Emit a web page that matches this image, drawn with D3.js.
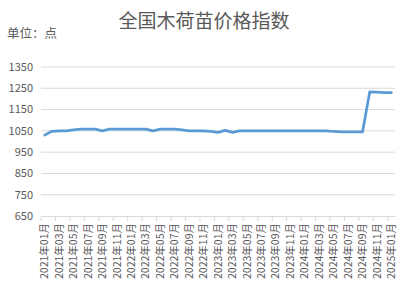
<!DOCTYPE html>
<html>
<head>
<meta charset="utf-8">
<script src="https://cdn.jsdelivr.net/npm/d3@7"></script>
<style>
  body { margin: 0; background: #fff; }
  text { font-family: "Noto Sans CJK SC", "Noto Sans", sans-serif; fill: #595959; }
</style>
</head>
<body>
<div id="chart"></div>
<script>
const months = [];
for (let y = 2021; y <= 2025; y++) {
  for (let m = 1; m <= 12; m++) {
    if (y === 2025 && m > 1) break;
    months.push(`${y}年${String(m).padStart(2, "0")}月`);
  }
}

const values = [
  1030, 1048, 1050, 1050, 1055, 1058, 1058, 1058, 1050, 1058, 1058, 1058,
  1058, 1058, 1058, 1050, 1058, 1058, 1058, 1055, 1050, 1050, 1050, 1048,
  1043, 1052, 1043, 1050, 1050, 1050, 1050, 1050, 1050, 1050, 1050, 1050,
  1050, 1050, 1050, 1050, 1047, 1045, 1045, 1045, 1045, 1233, 1232, 1230,
  1230
];

const yTicks = [650, 750, 850, 950, 1050, 1150, 1250, 1350];

const W = 409, H = 292;
const margin = { top: 67, right: 14, bottom: 76, left: 41 };
const width = W - margin.left - margin.right;
const height = H - margin.top - margin.bottom;

const svg = d3.select("#chart")
  .append("svg")
  .attr("width", W)
  .attr("height", H);

svg.append("text")
  .attr("x", 204)
  .attr("y", 28)
  .attr("text-anchor", "middle")
  .style("font-size", "19px")
  .text("全国木荷苗价格指数");

svg.append("text")
  .attr("x", 7)
  .attr("y", 38)
  .style("font-size", "12.5px")
  .text("单位：点");

const g = svg.append("g")
  .attr("transform", `translate(${margin.left},${margin.top})`);

const x = d3.scaleBand()
  .domain(months)
  .range([0, width])
  .padding(0);

const y = d3.scaleLinear()
  .domain([650, 1350])
  .range([height, 0]);

// grid
g.selectAll(".grid")
  .data(yTicks.slice(1))
  .enter()
  .append("line")
  .attr("x1", 0)
  .attr("x2", width)
  .attr("y1", d => y(d))
  .attr("y2", d => y(d))
  .attr("stroke", "#d9d9d9")
  .attr("stroke-width", 1);

// y labels
g.selectAll(".ylab")
  .data(yTicks)
  .enter()
  .append("text")
  .attr("x", -8)
  .attr("y", d => y(d))
  .attr("dy", "0.35em")
  .attr("text-anchor", "end")
  .style("font-size", "11px")
  .text(d => d);

// x axis
const shown = months.filter((d, i) => i % 2 === 0);
const xAxis = g.append("g")
  .attr("transform", `translate(0,${height})`)
  .call(d3.axisBottom(x).tickValues(shown).tickSize(5).tickSizeOuter(0));

xAxis.select(".domain").attr("stroke", "#d9d9d9");
xAxis.selectAll(".tick line")
  .attr("stroke", "#d9d9d9")
  .attr("x1", -x.bandwidth() / 2)
  .attr("x2", -x.bandwidth() / 2);
xAxis.selectAll(".tick text")
  .attr("transform", "rotate(-90)")
  .attr("x", -7)
  .attr("y", 0)
  .attr("dy", "0.35em")
  .attr("text-anchor", "end")
  .style("font-size", "10.5px")
  .style("font-family", "\"Noto Sans CJK SC\", sans-serif")
  .attr("fill", "#595959");

// line
const line = d3.line()
  .x((d, i) => x(months[i]) + x.bandwidth() / 2)
  .y(d => y(d));

g.append("path")
  .datum(values)
  .attr("d", line)
  .attr("fill", "none")
  .attr("stroke", "#5b9bd5")
  .attr("stroke-width", 2.75)
  .attr("stroke-linejoin", "round")
  .attr("stroke-linecap", "round");
</script>
</body>
</html>
